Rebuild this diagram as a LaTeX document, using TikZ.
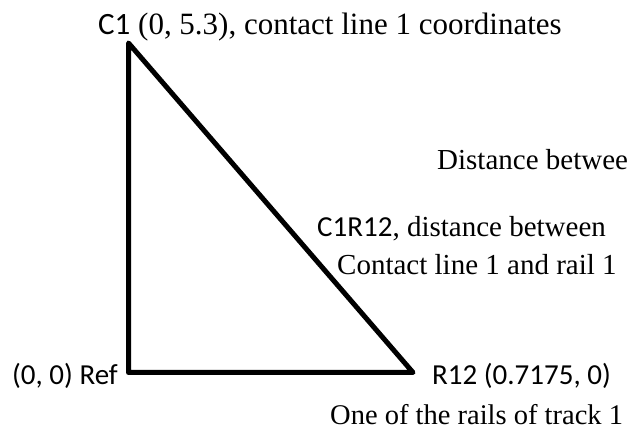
\documentclass[tikz,border=0pt]{standalone}
\usepackage{fontspec}
\setmainfont{Liberation Serif}
\newfontfamily\carlito{Carlito}
\usepackage{tikz}
\usetikzlibrary{calc,positioning}
\tikzset{
  lbl/.style={anchor=base west, inner sep=0pt, font=\fontsize{29}{34}\selectfont},
  side/.style={line width=5pt, line join=round}
}

\begin{document}
\begin{tikzpicture}[x=1pt,y=1pt]
\useasboundingbox (0,0) rectangle (627,431);
\coordinate (C1) at (128.5,388);
\coordinate (Ref) at (128.5,58.5);
\coordinate (R12) at (413,58.5);
\draw[side] (Ref) -- (C1) -- (R12) -- cycle;
\node[lbl, font=\fontsize{31}{36}\selectfont] (c1lbl) at (98,396) {{\carlito C1} (0, 5.3), contact line 1 coordinates};
\node[lbl] (distcut) at (437,261) {Distance betwee};
\node[lbl] (c1r12a) at (317,194) {{\carlito C1R12}, distance between};
\node[lbl] (c1r12b) at (337,156) {Contact line 1 and rail 1};
\node[lbl] (reflbl) at (12,46.5) {\carlito (0, 0) Ref};
\node[lbl] (r12lbl) at (432,46.5) {\carlito R12 (0.7175, 0)};
\node[lbl, font=\fontsize{28.5}{34}\selectfont] (raillbl) at (330,6) {One of the rails of track 1};
\end{tikzpicture}
\end{document}
